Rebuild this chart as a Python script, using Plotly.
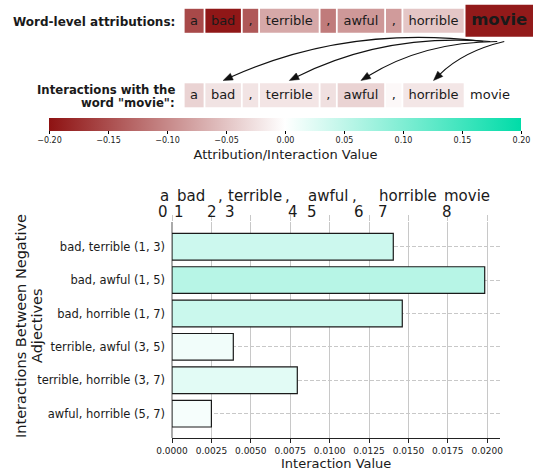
import plotly.graph_objects as go

# ---------------- data ----------------
tokens = ["a", "bad", ",", "terrible", ",", "awful", ",", "horrible", "movie"]
word_attributions = [-0.154, -0.196, -0.141, -0.073, -0.111, -0.087, -0.084, -0.048, -0.193]
movie_interactions = [-0.037, -0.024, -0.023, -0.022, -0.026, -0.037, -0.006, -0.021, None]

pair_labels = ["bad, terrible (1, 3)", "bad, awful (1, 5)", "bad, horrible (1, 7)",
               "terrible, awful (3, 5)", "terrible, horrible (3, 7)", "awful, horrible (5, 7)"]
pair_values = [0.01404, 0.01984, 0.01461, 0.00389, 0.00795, 0.00250]

x_tick_values = [0.0, 0.0025, 0.005, 0.0075, 0.01, 0.0125, 0.015, 0.0175, 0.02]
cbar_tick_values = [-0.2, -0.15, -0.1, -0.05, 0.0, 0.05, 0.1, 0.15, 0.2]
token_indices = ["0", "1", "2", "3", "4", "5", "6", "7", "8"]
targets = ["bad", "terrible", "awful", "horrible"]

# ---------------- layout constants (pixels) ----------------
W, H = 541, 473
FONT = "DejaVu Sans"
colorscale = [[0.0, "#8e1212"], [0.5, "#ffffff"], [1.0, "#00dca8"]]

box_left0 = 184.6
gap = 1.8
row1_widths = [19, 35.5, 15.5, 58.7, 15.4, 46.5, 15.5, 60.4, 67.5]
row2_widths = [19, 35.5, 15.5, 58.7, 15.4, 46.5, 15.5, 60.4, 49]
row1_y, row2_y = 20.8, 95.3
row1_heights = [24] * 8 + [32]
row2_heights = [24] * 9


def lefts(widths):
    out, x = [], box_left0
    for w in widths:
        out.append(x)
        x += w + gap
    return out


l1 = lefts(row1_widths)
l2 = lefts(row2_widths)

fig = go.Figure()

# interaction bars (main chart)
fig.add_trace(go.Bar(
    orientation="h", x=pair_values, y=list(range(len(pair_labels))),
    marker=dict(color=pair_values, coloraxis="coloraxis2",
                line=dict(color="#1a1a1a", width=1.2)),
    width=0.8, hoverinfo="skip", showlegend=False))

# dummy trace for top tick axis
fig.add_trace(go.Scatter(x=[None], y=[None], xaxis="x3", yaxis="y", showlegend=False))

# word boxes (row 1 and row 2) drawn as horizontal bars in a pixel coordinate system
bx, bbase, by, bw, bc = [], [], [], [], []
for i, v in enumerate(word_attributions):
    bx.append(row1_widths[i]); bbase.append(l1[i]); by.append(row1_y); bw.append(row1_heights[i]); bc.append(v)
for i, v in enumerate(movie_interactions):
    if v is None:
        continue
    bx.append(row2_widths[i]); bbase.append(l2[i]); by.append(row2_y); bw.append(row2_heights[i]); bc.append(v)

fig.add_trace(go.Bar(
    orientation="h", x=bx, base=bbase, y=by, width=bw,
    marker=dict(color=bc, coloraxis="coloraxis", line=dict(width=0)),
    xaxis="x2", yaxis="y2", hoverinfo="skip", showlegend=False))

# word texts
txt_x = [l1[i] + row1_widths[i] / 2 for i in range(len(tokens))] + \
        [l2[i] + row2_widths[i] / 2 for i in range(len(tokens))]
txt_y = [row1_y] * len(tokens) + [row2_y] * len(tokens)
txt = tokens[:-1] + ["<b>" + tokens[-1] + "</b>"] + tokens
txt_size = [13] * 8 + [16.5] + [13] * 9
fig.add_trace(go.Scatter(
    x=txt_x, y=[y + 0.5 for y in txt_y], text=txt, mode="text",
    textposition="middle center",
    textfont=dict(size=txt_size, color="#1a1a1a", family=FONT),
    xaxis="x2", yaxis="y2", hoverinfo="skip", showlegend=False))

# ---------------- arrows ----------------
shapes = []
movie_center = l1[-1] + row1_widths[-1] / 2
start_offsets = [-16, -9, -2, 5]
for k, t in enumerate(targets):
    i = tokens.index(t)
    x1, y1 = l2[i] + row2_widths[i] / 2, 80.5
    x0, y0 = movie_center + start_offsets[k], 41.5
    mx, my = (x0 + x1) / 2, (y0 + y1) / 2
    dx, dy = x1 - x0, y1 - y0
    L = (dx ** 2 + dy ** 2) ** 0.5
    px, py = dy / L, -dx / L
    if py > 0:
        px, py = -px, -py
    rad = 0.14
    cx, cy = mx + px * rad * L, my + py * rad * L
    tx, ty = x1 - cx, y1 - cy
    tl = (tx ** 2 + ty ** 2) ** 0.5
    ux, uy = tx / tl, ty / tl
    hl, hw = 9.5, 3.6
    bxp, byp = x1 - ux * hl, y1 - uy * hl
    shapes.append(dict(type="path", xref="x2", yref="y2",
                       path=f"M {x0},{y0} Q {cx},{cy} {bxp + ux},{byp + uy}",
                       line=dict(color="#111111", width=1.1)))
    shapes.append(dict(type="path", xref="x2", yref="y2",
                       path=(f"M {x1},{y1} L {bxp - uy * hw},{byp + ux * hw} "
                             f"L {bxp + uy * hw},{byp - ux * hw} Z"),
                       fillcolor="#111111", line=dict(color="#111111", width=0.5)))

# ---------------- annotations ----------------
ann = []


def A(x, y, text, size, xanchor="center", bold=False, angle=0, color="#1a1a1a"):
    ann.append(dict(x=x, y=y, xref="x2", yref="y2", text=("<b>%s</b>" % text) if bold else text,
                    showarrow=False, xanchor=xanchor, yanchor="middle", textangle=angle,
                    font=dict(size=size, family=FONT, color=color)))


A(177, 22, "Word-level attributions:", 12, "right", True)
A(177, 89.5, "Interactions with the", 11.7, "right", True)
A(177, 102.5, 'word "movie":', 11.7, "right", True)

word_left = [159, 176, 216.5, 227.3, 284, 306.7, 350.5, 378.3, 443.3]
num_center = [162.7, 179.3, 211.7, 230, 292.7, 312.3, 359, 383.3, 446.7]
for i, t in enumerate(tokens):
    A(word_left[i] - 1, 196, t, 15, "left")
    A(num_center[i], 212, token_indices[i], 15, "center")

A(21, 326, "Interactions Between Negative", 14.5, angle=-90)
A(37, 326, "Adjectives", 14.5, angle=-90)
A(336, 463.5, "Interaction Value", 13)

# ---------------- layout ----------------
x0d, x1d = 172 / W, 500 / W
y0d, y1d = 1 - 438 / H, 1 - 222 / H

fig.update_layout(
    width=W, height=H, margin=dict(l=0, r=0, t=0, b=0),
    paper_bgcolor="white", plot_bgcolor="rgba(0,0,0,0)",
    font=dict(family=FONT, color="#1a1a1a"),
    barmode="overlay", showlegend=False,
    shapes=shapes, annotations=ann,
    coloraxis=dict(
        colorscale=colorscale, cmin=-0.2, cmax=0.2,
        colorbar=dict(
            orientation="h", x=285.5 / W, xanchor="center", y=1 - 117.6 / H, yanchor="top",
            len=472.4, lenmode="pixels", thickness=13, thicknessmode="pixels",
            xpad=0, ypad=0, outlinewidth=0,
            ticks="outside", ticklen=3, tickwidth=1, tickcolor="#000",
            tickvals=cbar_tick_values, tickformat=".2f",
            tickfont=dict(size=8, family=FONT, color="#1a1a1a"),
            title=dict(text="Attribution/Interaction Value", side="bottom",
                       font=dict(size=13, family=FONT, color="#1a1a1a")))),
    coloraxis2=dict(colorscale=colorscale, cmin=-0.07, cmax=0.07, showscale=False),
    xaxis=dict(domain=[x0d, x1d], anchor="y", range=[0, 0.02081],
               tickvals=x_tick_values, tickformat=".4f",
               tickfont=dict(size=9, family=FONT, color="#1a1a1a"),
               showgrid=True, gridcolor="#c8c8c8", gridwidth=1.4,
               zeroline=True, zerolinecolor="#aaaaaa", zerolinewidth=1.6,
               showline=True, linecolor="#222222", linewidth=1,
               ticks="outside", ticklen=4, tickcolor="#222222", automargin=False),
    xaxis3=dict(overlaying="x", side="top", anchor="y", range=[0, 0.02081],
                tickvals=x_tick_values, showticklabels=False, showgrid=False,
                zeroline=False, showline=False, ticks="outside", ticklen=6,
                tickcolor="#c8c8c8", tickwidth=1.4, automargin=False),
    yaxis=dict(domain=[y0d, y1d], anchor="x", range=[5.73, -0.74],
               tickvals=list(range(len(pair_labels))), ticktext=pair_labels,
               tickfont=dict(size=11.5, family=FONT, color="#1a1a1a"),
               showgrid=True, gridcolor="#c8c8c8", gridwidth=1, griddash="4px,2px",
               zeroline=False, showline=False, ticks="", automargin=False,
               ticklabelstandoff=6),
    xaxis2=dict(domain=[0, 1], anchor="y2", range=[0, W], visible=False, fixedrange=True),
    yaxis2=dict(domain=[0, 1], anchor="x2", range=[H, 0], visible=False, fixedrange=True),
)

fig.write_html("out.html", post_script="document.body.style.margin='0px';",
               config={"displayModeBar": False})
